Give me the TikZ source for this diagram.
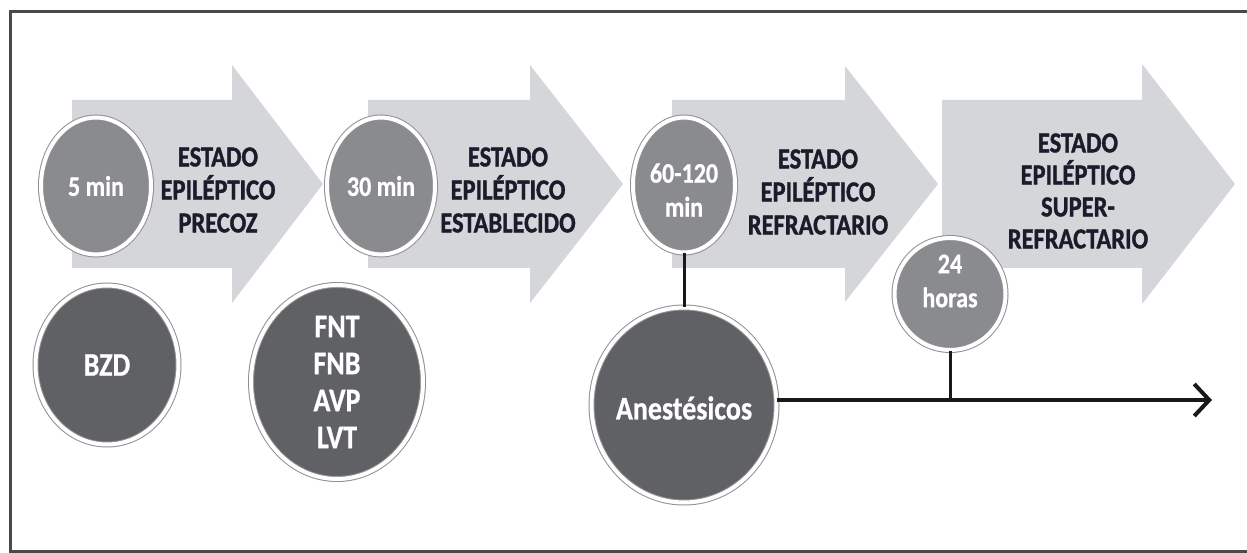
\documentclass[tikz,border=0pt]{standalone}
\usepackage{fontspec}
\setmainfont{Carlito}
\newfontfamily\heavyfont{Carlito Bold}[FakeBold=1.4]
\newfontfamily\whitefont{Carlito Bold}[FakeBold=0.8]
\usetikzlibrary{shapes.geometric,arrows.meta}
\definecolor{arrowgray}{HTML}{D4D6D9}
\definecolor{midgray}{HTML}{8A8B8E}
\definecolor{darkgray2}{HTML}{606164}
\definecolor{ringgray}{HTML}{909092}
\definecolor{framegray}{HTML}{4A4A4A}
\definecolor{hdrcol}{HTML}{1B1B2B}
\newcommand\vst[1]{\scalebox{1}[1.18]{#1}}
\begin{document}
\begin{tikzpicture}[x=1pt,y=-1pt,
  bigarrow/.style={fill=arrowgray, draw=none},
  stage/.style={ellipse, fill=midgray, draw=ringgray, line width=1pt, double=white, double distance=4pt, inner sep=0pt},
  drug/.style={stage, fill=darkgray2},
  ctext/.style={text=white, font=\whitefont\fontsize{24}{34}\selectfont, align=center, inner sep=0pt},
  btext/.style={ctext, font=\whitefont\fontsize{28}{37}\selectfont},
  hdr/.style={text=hdrcol, font=\heavyfont\fontsize{24.5}{33}\selectfont, align=center, inner sep=0pt},
  link/.style={draw=black!90, line width=3pt}]
\useasboundingbox (0,0) rectangle (1247,553);
\fill[white] (0,0) rectangle (1247,553);
% frame
\draw[framegray, line width=3pt] (1255,12) -- (10,12) -- (10,551) -- (1255,551);
% big arrows
\fill[bigarrow] (72,100) -- (232,100) -- (232,65) -- (323,184) -- (232,303) -- (232,268) -- (72,268) -- cycle;
\fill[bigarrow] (368,100) -- (530,100) -- (530,65) -- (623,184) -- (530,303) -- (530,268) -- (368,268) -- cycle;
\fill[bigarrow] (672,100) -- (845,100) -- (845,66) -- (938,184) -- (845,302) -- (845,268) -- (672,268) -- cycle;
\fill[bigarrow] (942,100) -- (1142,100) -- (1142,64) -- (1235,184) -- (1142,304) -- (1142,268) -- (942,268) -- cycle;
% stage headers
\node[hdr] (h1) at (218,190) {\vst{ESTADO}\\\vst{EPILÉPTICO}\\\vst{PRECOZ}};
\node[hdr] (h2) at (508,190) {\vst{ESTADO}\\\vst{EPILÉPTICO}\\\vst{ESTABLECIDO}};
\node[hdr] (h3) at (818,192) {\vst{ESTADO}\\\vst{EPILÉPTICO}\\\vst{REFRACTARIO}};
\node[hdr, font=\heavyfont\fontsize{24.5}{32}\selectfont] (h4) at (1078,191) {\vst{ESTADO}\\\vst{EPILÉPTICO}\\\vst{SUPER-}\\\vst{REFRACTARIO}};
% time circles
\node[stage, minimum width=110, minimum height=137, label={[ctext]center:\vst{5 min}}] (t5) at (96,186) {};
\node[stage, minimum width=108, minimum height=137, label={[ctext]center:\vst{30 min}}] (t30) at (381,186) {};
\node[stage, minimum width=102, minimum height=135, label={[ctext, yshift=-5]center:{\vst{60-120}\\\vst{min}}}] (t60) at (684,185) {};
\node[stage, minimum width=111, minimum height=112, label={[ctext, yshift=13]center:{\vst{24}\\\vst{horas}}}] (t24) at (950,294) {};
% drug circles
\node[drug, minimum width=143, minimum height=159, label={[btext]center:\vst{BZD}}] (bzd) at (107,365) {};
\node[drug, minimum width=172, minimum height=194, label={[btext]center:{\vst{FNT}\\\vst{FNB}\\\vst{AVP}\\\vst{LVT}}}] (fnt) at (337,382) {};
\node[drug, minimum width=185, minimum height=195, label={[btext, yshift=-3]center:\vst{Anestésicos}}] (anes) at (684,405) {};
% connectors
\coordinate (tend) at (1212,400);
\coordinate (j24) at (950,400);
\draw[link] (t60.south) -- (anes.north);
\draw[link] (t24.south) -- (j24);
\draw[link, line width=3.6pt, -{Straight Barb[length=15pt,width=32pt,line width=4pt]}] (anes.east |- tend) -- (tend);
\end{tikzpicture}
\end{document}
